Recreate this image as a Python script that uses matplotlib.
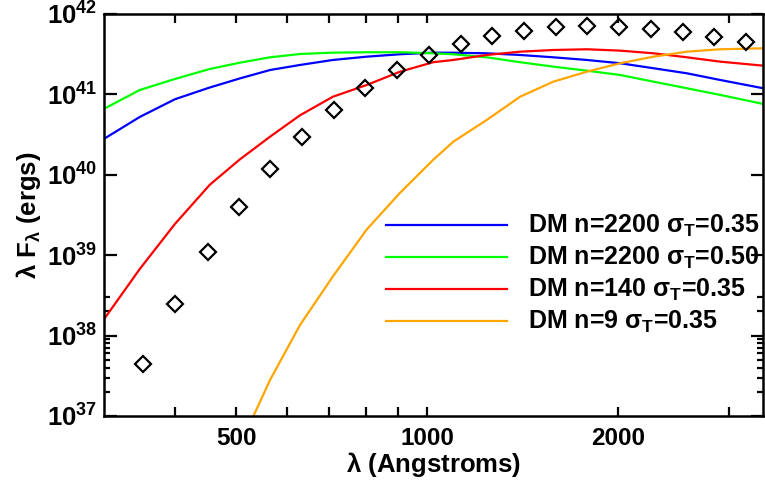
import numpy as np
import matplotlib
matplotlib.use("Agg")
import matplotlib.pyplot as plt
from matplotlib.ticker import FixedLocator, FixedFormatter, NullFormatter

plt.rcParams['font.family'] = ['Liberation Sans', 'DejaVu Sans']
plt.rcParams['font.weight'] = 'bold'
plt.rcParams['mathtext.fontset'] = 'custom'
plt.rcParams['mathtext.rm'] = 'Liberation Sans'
plt.rcParams['mathtext.bf'] = 'Liberation Sans:bold'
plt.rcParams['mathtext.it'] = 'Liberation Sans:italic'
plt.rcParams['mathtext.sf'] = 'Liberation Sans'

# Model wavelength grid (Angstroms)
wave = [310, 352, 400, 454, 506, 565, 630, 710, 803, 906, 1022, 1100,
        1242, 1402, 1582, 1787, 2017, 2277, 2571, 2902, 3393]

# log10(lambda F_lambda) for each disk model
logF_n2200_s035 = [40.454, 40.72, 40.94, 41.086, 41.198, 41.303, 41.366, 41.428,
                   41.469, 41.499, 41.519, 41.518, 41.511, 41.490, 41.461, 41.428,
                   41.387, 41.325, 41.262, 41.179, 41.076]
logF_n2200_s050 = [40.827, 41.055, 41.192, 41.316, 41.394, 41.461, 41.502, 41.519,
                   41.524, 41.524, 41.511, 41.499, 41.461, 41.40, 41.345, 41.295,
                   41.241, 41.158, 41.076, 40.993, 40.881]
logF_n140_s035 = [38.219, 38.83, 39.39, 39.877, 40.19, 40.474, 40.74, 40.971,
                  41.117, 41.282, 41.40, 41.428, 41.49, 41.531, 41.552, 41.561,
                  41.544, 41.511, 41.461, 41.407, 41.357]
# n=9 model starts at 506 A (below the plotted range before that)
logF_n9_s035 = [36.63, 37.448, 38.132, 38.736, 39.32, 39.775, 40.185, 40.412,
                40.682, 40.971, 41.158, 41.282, 41.387, 41.469, 41.531, 41.561,
                41.573]

# Observed spectral energy distribution (diamonds)
obs_wave = [356, 400, 451, 505, 565, 634, 713, 798, 896, 1005, 1130, 1268,
            1424, 1596, 1791, 2010, 2255, 2530, 2838, 3185]
obs_logF = [37.643, 38.393, 39.04, 39.60, 40.072, 40.474, 40.806, 41.076,
            41.303, 41.484, 41.623, 41.726, 41.789, 41.835, 41.851, 41.842,
            41.813, 41.772, 41.718, 41.648]

labels = [r'DM n=2200 $\mathrm{\sigma}_{\mathbf{T}}$=0.35',
          r'DM n=2200 $\mathrm{\sigma}_{\mathbf{T}}$=0.50',
          r'DM n=140 $\mathrm{\sigma}_{\mathbf{T}}$=0.35',
          r'DM n=9 $\mathrm{\sigma}_{\mathbf{T}}$=0.35']
colors = ['#0000ff', '#00ff00', '#ff0000', '#ffa500']

x_major = [500, 1000, 2000]
x_major_labels = ['500', '1000', '2000']
x_minor = [400, 600, 700, 800, 900, 3000]
y_major_exp = [37, 38, 39, 40, 41, 42]
y_minor = [2e37, 3e37, 4e37, 5e37, 6e37, 7e37, 8e37, 9e37, 2e38, 3e38]

fig = plt.figure(figsize=(7.65, 4.82), dpi=100)
ax = fig.add_axes([0.136, 0.137, 0.8614, 0.834])

series = [logF_n2200_s035, logF_n2200_s050, logF_n140_s035, logF_n9_s035]
for logF, c in zip(series, colors):
    w = wave[len(wave) - len(logF):]
    ax.plot(w, 10.0 ** np.array(logF), color=c, lw=1.6, solid_joinstyle='round')

ax.plot(obs_wave, 10.0 ** np.array(obs_logF), linestyle='none', marker='D',
        markersize=8.5, markerfacecolor='none', markeredgecolor='black',
        markeredgewidth=1.6)

ax.set_xscale('log')
ax.set_yscale('log')
ax.set_xlim(309, 3390)
ax.set_ylim(1e37, 1e42)

ax.xaxis.set_major_locator(FixedLocator(x_major))
ax.xaxis.set_major_formatter(FixedFormatter(x_major_labels))
ax.xaxis.set_minor_locator(FixedLocator(x_minor))
ax.xaxis.set_minor_formatter(NullFormatter())
ax.yaxis.set_major_locator(FixedLocator([10.0 ** e for e in y_major_exp]))
ax.yaxis.set_major_formatter(FixedFormatter([r'$\mathbf{10^{%d}}$' % e for e in y_major_exp]))
ax.yaxis.set_minor_locator(FixedLocator(y_minor))
ax.yaxis.set_minor_formatter(NullFormatter())

ax.tick_params(which='both', direction='in', top=True, right=True, width=1.6)
ax.xaxis.set_tick_params(which='both', length=6.5, pad=8, labelsize=17.5)
ax.yaxis.set_tick_params(which='major', length=9, pad=5, labelsize=18.5)
ax.yaxis.set_tick_params(which='minor', length=4.5)
for lab in ax.get_xticklabels() + ax.get_yticklabels():
    lab.set_fontweight('bold')
for sp in ax.spines.values():
    sp.set_linewidth(1.8)

ax.set_xlabel(r'$\mathrm{\lambda}$ (Angstroms)', fontsize=18.5, fontweight='bold', labelpad=0)
ax.set_ylabel(r'$\mathrm{\lambda}$ $\mathbf{F_{\lambda}}$ (ergs)', fontsize=18.5,
              fontweight='bold', labelpad=3)

# Key: colored line samples with their model names
key_y = [0.475, 0.3955, 0.316, 0.2363]
for yk, c, lab in zip(key_y, colors, labels):
    ax.plot([0.428, 0.6115], [yk, yk], color=c, lw=1.6, transform=ax.transAxes)
    ax.text(0.6434, yk - 0.019, lab, transform=ax.transAxes, fontsize=18,
            fontweight='bold', va='baseline', ha='left')

fig.savefig('out.png', dpi=100)
